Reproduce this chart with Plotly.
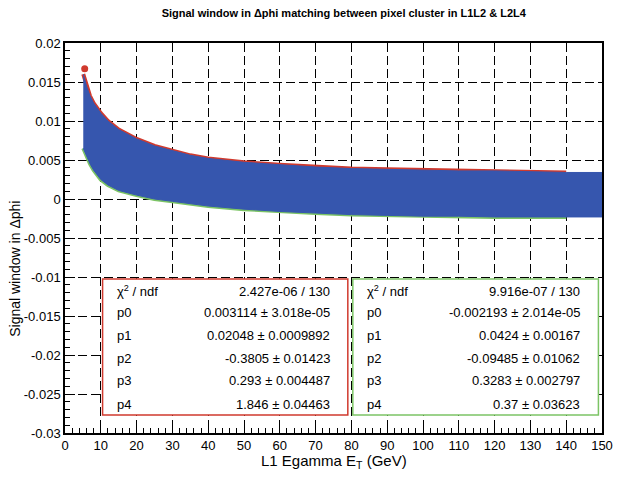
import plotly.graph_objects as go

# L1 Egamma ET sample points and the upper / lower edges of the signal window band
et_gev = [5.1, 6, 7, 8, 10, 12, 15, 20, 25, 30, 35, 40, 50, 60, 70, 80, 90,
          100, 110, 120, 130, 140, 150]
window_upper = [0.0160, 0.0145, 0.0132, 0.0123, 0.0110, 0.0100, 0.0089, 0.0077,
                0.0068, 0.0062, 0.0056, 0.0052, 0.0047, 0.0044, 0.0041, 0.0039,
                0.0038, 0.0037, 0.0036, 0.0036, 0.0035, 0.0034, 0.0034]
window_lower = [0.0065, 0.0055, 0.0045, 0.0037, 0.0025, 0.0018, 0.0011, 0.0005,
                0.0000, -0.0003, -0.0006, -0.0009, -0.0013, -0.0016, -0.0018,
                -0.0020, -0.0021, -0.0022, -0.0022, -0.0023, -0.0023, -0.0023,
                -0.0023]
first_point = (5.5, 0.0167)
fit_range_max = 140

# Fit results (upper edge: red, lower edge: green)
stat_labels = ["\u03c7<sup>2</sup> / ndf", "p0", "p1", "p2", "p3", "p4"]
upper_fit = ["2.427e-06 / 130", "0.003114 \u00b1 3.018e-05", "0.02048 \u00b1 0.0009892",
             "-0.3805 \u00b1 0.01423", "0.293 \u00b1 0.004487", "1.846 \u00b1 0.04463"]
lower_fit = ["9.916e-07 / 130", "-0.002193 \u00b1 2.014e-05", "0.0424 \u00b1 0.00167",
             "-0.09485 \u00b1 0.01062", "0.3283 \u00b1 0.002797", "0.37 \u00b1 0.03623"]

x_ticks = list(range(0, 151, 10))
y_ticks = [0.02, 0.015, 0.01, 0.005, 0, -0.005, -0.01, -0.015, -0.02, -0.025, -0.03]
y_tick_text = ["0.02", "0.015", "0.01", "0.005", "0", "-0.005", "-0.01", "-0.015",
               "-0.02", "-0.025", "-0.03"]

RED = "#d03a2e"
GREEN = "#7cc465"
BLUE = "#3656ae"
FONT = "Liberation Sans"

fit_x = [x for x in et_gev if x <= fit_range_max]
n_fit = len(fit_x)

fig = go.Figure()
# red / green edge points peeking out from under the band
fig.add_trace(go.Scatter(x=fit_x, y=window_upper[:n_fit], mode="lines",
                         line=dict(color=RED, width=4), hoverinfo="skip"))
fig.add_trace(go.Scatter(x=fit_x, y=window_lower[:n_fit], mode="lines",
                         line=dict(color=GREEN, width=4), hoverinfo="skip"))
fig.add_trace(go.Scatter(x=[first_point[0]], y=[first_point[1]], mode="markers",
                         marker=dict(color=RED, size=7), hoverinfo="skip"))
# blue signal window band
fig.add_trace(go.Scatter(x=et_gev, y=window_lower, mode="lines",
                         line=dict(color=BLUE, width=1)))
fig.add_trace(go.Scatter(x=et_gev, y=window_upper, mode="lines", fill="tonexty",
                         fillcolor=BLUE, line=dict(color=BLUE, width=1)))

# stat boxes
box_top, box_bottom = -0.01026, -0.0277
boxes = [(10.5, 79.0, RED, upper_fit), (80.4, 149.0, GREEN, lower_fit)]
row_y = [-0.0118, -0.0146, -0.0175, -0.0204, -0.0233, -0.0263]
for x0, x1, col, values in boxes:
    fig.add_shape(type="rect", x0=x0, x1=x1, y0=box_bottom, y1=box_top,
                  xref="x", yref="y", line=dict(color=col, width=1.5),
                  fillcolor="white", layer="above")
    for lab, val, yy in zip(stat_labels, values, row_y):
        fig.add_annotation(x=x0 + 3.5, y=yy, text=lab, showarrow=False,
                           xanchor="left", yanchor="middle",
                           font=dict(family=FONT, size=13, color="black"))
        fig.add_annotation(x=x1 - 4.5, y=yy, text=val, showarrow=False,
                           xanchor="right", yanchor="middle",
                           font=dict(family=FONT, size=13, color="black"))

# axis titles
fig.add_annotation(text="Signal window in \u0394phi", xref="paper", yref="paper",
                   x=-0.092, y=0.42, textangle=-90, showarrow=False,
                   xanchor="center", yanchor="middle",
                   font=dict(family=FONT, size=14, color="black"))
fig.add_annotation(text="L1 Egamma E<sub>T</sub> (GeV)", xref="paper", yref="paper",
                   x=0.5, y=-0.072, showarrow=False, xanchor="center",
                   yanchor="middle",
                   font=dict(family=FONT, size=15, color="black"))

axis_common = dict(showline=True, linecolor="black", linewidth=1.5, mirror=True,
                   showgrid=True, gridcolor="black", gridwidth=1.3,
                   griddash="9px,4px",
                   zeroline=False, ticks="inside", ticklen=10, tickcolor="black",
                   tickwidth=1.2, tickfont=dict(family=FONT, size=13, color="black"))

fig.update_xaxes(range=[0, 150], tickvals=x_ticks,
                 minor=dict(dtick=2, ticks="inside", ticklen=5, tickcolor="black",
                            showgrid=False),
                 **axis_common)
fig.update_yaxes(range=[-0.03, 0.02], tickvals=y_ticks, ticktext=y_tick_text,
                 minor=dict(dtick=0.001, ticks="inside", ticklen=5, tickcolor="black",
                            showgrid=False),
                 **axis_common)

fig.update_layout(
    width=625, height=479,
    margin=dict(l=65, r=15, t=43, b=46),
    paper_bgcolor="white", plot_bgcolor="white",
    showlegend=False,
    title=dict(text="<b>Signal window in \u0394phi matching between pixel cluster in L1L2 & L2L4</b>",
               x=0.55, xanchor="center", y=0.972, yanchor="middle",
               font=dict(family=FONT, size=11, color="black")),
)

fig.write_html("out.html")
